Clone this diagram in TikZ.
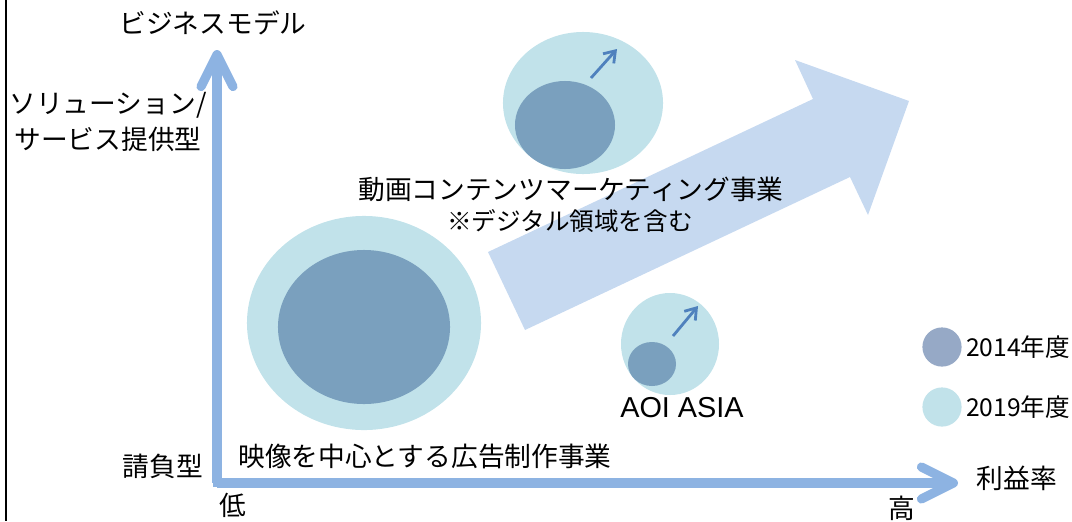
\documentclass[tikz,border=0pt]{standalone}
\usepackage{fontspec}
\setmainfont{Noto Sans CJK JP}
\newfontfamily\latinsans{Liberation Sans}
\usepackage{tikz}
\usetikzlibrary{arrows.meta,positioning,shapes.geometric}
\definecolor{axisblue}{HTML}{8DB3E2}
\definecolor{bubblight}{HTML}{C1E2EA}
\definecolor{bubdark}{HTML}{7AA0BE}
\definecolor{keydark}{HTML}{96A9C6}
\definecolor{bandblue}{HTML}{C6D9F0}
\definecolor{growblue}{HTML}{4F81BD}
\tikzset{
  axis/.style={line width=6.5pt, draw=axisblue, -{Straight Barb[length=0.8cm, width=0.8cm, round]}},
  bub/.style={ellipse, inner sep=0pt, draw=none},
  bubl/.style={bub, fill=bubblight},
  bubd/.style={bub, fill=bubdark},
  growarr/.style={-{Straight Barb[length=2.6mm, width=3.6mm]}, line width=2pt, draw=growblue},
  lbl/.style={font=\fontsize{19}{26}\selectfont, inner sep=0pt, align=center},
  sub/.style={font=\fontsize{17.5}{22}\selectfont, inner sep=0pt},
  key/.style={circle, minimum size=0.98cm, inner sep=0pt},
}
\begin{document}
\begin{tikzpicture}[x=0.025cm, y=-0.025cm]
    \useasboundingbox (0,0) rectangle (1072,521);
    \draw[line width=1.5pt] (6,0) -- (6,521);

    % flecha de crecimiento
    \fill[bandblue] (488,252) -- (813,99) -- (795,60) -- (909,101) -- (868,215) -- (850,177) -- (525,330) -- cycle;

    % ejes
    \coordinate (o) at (217,483);
    \coordinate (ytip) at (217,50);
    \coordinate (xtip) at (958,483);
    \draw[axis] (o) -- (ytip);
    \draw[axis] (o) -- (xtip);
    \fill[axisblue] (212.9,478.9) rectangle (221.1,487.1);

    \node[lbl] (ylab) at (213,23) {ビジネスモデル};
    \node[lbl] (ytop) at (108,122) {ソリューション/\\サービス提供型};
    \node[lbl] (ybot) at (163,466) {請負型};
    \node[lbl] (xlow) at (233,505) {低};
    \node[lbl] (xhigh) at (902,508) {高};
    \node[lbl] (xlab) at (1017,478) {利益率};

    % burbujas
    \node[bubl, minimum width=5.85cm, minimum height=5.35cm] (ad19) at (364,323) {};
    \node[bubd, minimum width=4.3cm, minimum height=3.85cm] (ad14) at (364,327) {};
    \node[lbl] (adtxt) at (425,456) {映像を中心とする広告制作事業};

    \node[bubl, minimum width=4.0cm, minimum height=3.55cm] (mk19) at (583,103) {};
    \node[bubd, minimum width=2.5cm, minimum height=2.2cm] (mk14) at (565,125) {};
    \coordinate (mka) at (591,78);
    \coordinate (mkb) at (617,49);
    \draw[growarr] (mka) -- (mkb);
    \node[lbl] (mktxt) at (571,189) {動画コンテンツマーケティング事業};
    \node[sub] (mknote) at (570,221) {※デジタル領域を含む};

    \node[bubl, minimum width=2.45cm, minimum height=2.55cm] (as19) at (670,344) {};
    \node[bubd, minimum width=1.2cm, minimum height=1.1cm] (as14) at (652,364) {};
    \coordinate (asa) at (673,336);
    \coordinate (asb) at (698,306);
    \draw[growarr] (asa) -- (asb);
    \node[inner sep=0pt, font=\latinsans\fontsize{20.5}{24}\selectfont] (astxt) at (682,408) {AOI ASIA};

    % leyenda
    \node[key, fill=keydark] (k14) at (942,347) {};
    \node[key, fill=bubblight] (k19) at (942,407) {};
    \node[sub, anchor=west] at (966,347) {2014年度};
    \node[sub, anchor=west] at (966,407) {2019年度};
  \end{tikzpicture}
\end{document}
